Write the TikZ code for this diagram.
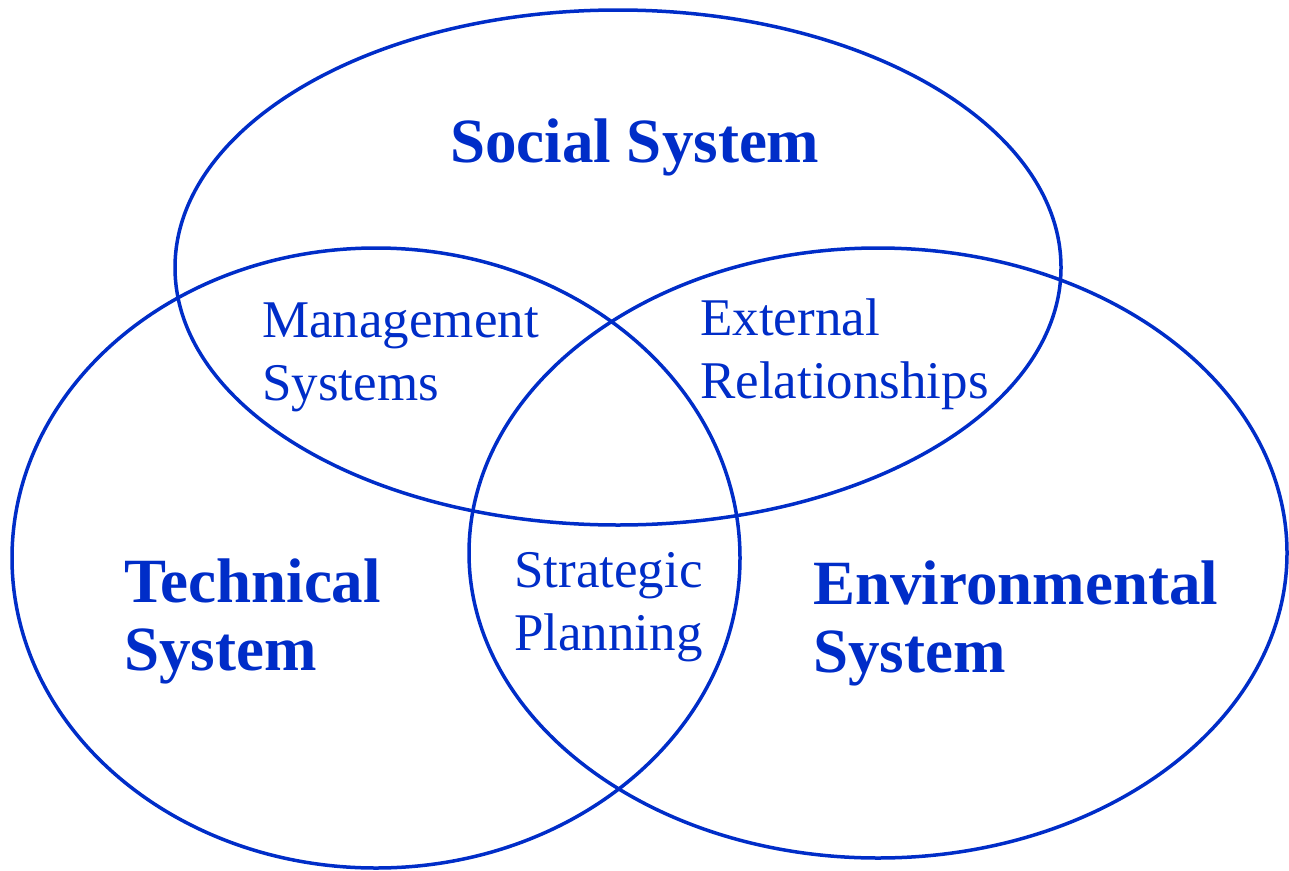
\documentclass[tikz,border=0pt]{standalone}
\usepackage{fontspec}
\setmainfont{Liberation Serif}
\definecolor{sysblue}{RGB}{0,45,200}
\tikzset{
	ring/.style = {draw = sysblue, line width = 3.5pt},
	bigtext/.style = {text = sysblue, font = \fontsize{63}{68}\selectfont\bfseries, align = left, anchor = base west, inner sep = 0},
	smalltext/.style = {text = sysblue, font = \fontsize{53}{63}\selectfont, align = left, anchor = base west, inner sep = 0}
}
\begin{document}
\begin{tikzpicture}[x = 1pt, y = -1pt]
	\useasboundingbox (0,0) rectangle (1289,870);
	% the three systems
	\draw[ring] (618,267.5) ellipse [x radius = 443, y radius = 257.5];
	\draw[ring] (376,558) ellipse [x radius = 364, y radius = 310];
	\draw[ring] (878,553) ellipse [x radius = 409, y radius = 305];
	% labels (base = last line)
	\node[bigtext] (social) at (450,162) {Social System};
	\node[bigtext] (technical) at (124,670) {Technical\\System};
	\node[bigtext] (environmental) at (813,672) {Environmental\\System};
	\node[smalltext] (management) at (262,400) {Management\\Systems};
	\node[smalltext] (external) at (700,398) {External\\Relationships};
	\node[smalltext] (strategic) at (514,650) {Strategic\\Planning};
\end{tikzpicture}
\end{document}
